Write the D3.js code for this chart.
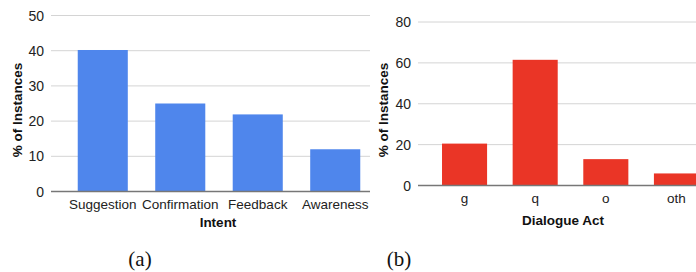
<!DOCTYPE html>
<html>
<head>
<meta charset="utf-8">
<script src="https://cdn.jsdelivr.net/npm/d3@7"></script>
<style>
  body { margin: 0; background: #fff; }
  svg { display: block; }
</style>
</head>
<body>
<script>
var intent_labels = ['Suggestion', 'Confirmation', 'Feedback', 'Awareness'];
var intent_values = [40.2, 25.0, 21.9, 12.0];
var intent_ticks = [0, 10, 20, 30, 40, 50];

var act_labels = ['g', 'q', 'o', 'oth'];
var act_values = [20.5, 61.5, 12.9, 5.9];
var act_ticks = [0, 20, 40, 60, 80];

var width = 696, height = 272;
var sans = '"Liberation Sans", Arial, sans-serif';

var svg = d3.select('body')
    .append('svg')
    .attr('width', width)
    .attr('height', height);

function draw_panel(cfg) {
    var g = svg.append('g');

    var x = d3.scaleBand()
        .domain(cfg.labels)
        .range(cfg.band_range)
        .paddingInner(cfg.pad_inner)
        .paddingOuter(cfg.pad_outer);

    var y = d3.scaleLinear()
        .domain([0, cfg.max])
        .range(cfg.y_range);

    // gridlines
    g.selectAll('.grid')
        .data(cfg.ticks.filter(function(d) { return d > 0; }))
        .enter()
        .append('line')
        .attr('x1', cfg.grid_x[0])
        .attr('x2', cfg.grid_x[1])
        .attr('y1', function(d) { return y(d); })
        .attr('y2', function(d) { return y(d); })
        .attr('stroke', '#d4d4d4')
        .attr('stroke-width', 1);

    // y tick labels
    g.selectAll('.ytick')
        .data(cfg.ticks)
        .enter()
        .append('text')
        .attr('x', cfg.grid_x[0] - 7)
        .attr('y', function(d) { return y(d) + 5; })
        .attr('text-anchor', 'end')
        .style('font-family', sans)
        .style('font-size', '14px')
        .attr('fill', '#222')
        .text(function(d) { return d; });

    // bars
    g.selectAll('.bar')
        .data(cfg.values)
        .enter()
        .append('rect')
        .attr('x', function(d, i) { return x(cfg.labels[i]); })
        .attr('y', function(d) { return y(d); })
        .attr('width', x.bandwidth())
        .attr('height', function(d) { return y(0) - y(d); })
        .attr('fill', cfg.color);

    // baseline
    g.append('line')
        .attr('x1', cfg.grid_x[0])
        .attr('x2', cfg.grid_x[1])
        .attr('y1', y(0))
        .attr('y2', y(0))
        .attr('stroke', '#777')
        .attr('stroke-width', 1.5);

    // x tick labels
    g.selectAll('.xtick')
        .data(cfg.labels)
        .enter()
        .append('text')
        .attr('x', function(d) { return x(d) + x.bandwidth() / 2; })
        .attr('y', y(0) + 17.5)
        .attr('text-anchor', 'middle')
        .style('font-family', sans)
        .style('font-size', '13.5px')
        .attr('fill', '#222')
        .text(function(d) { return d; });

    // x axis title
    g.append('text')
        .attr('x', cfg.x_title_x)
        .attr('y', cfg.x_title_y)
        .attr('text-anchor', 'middle')
        .style('font-family', sans)
        .style('font-size', '13.5px')
        .style('font-weight', 700)
        .attr('fill', '#111')
        .text(cfg.x_title);

    // y axis title
    g.append('text')
        .attr('transform', 'translate(' + cfg.y_title_x + ',' + cfg.y_title_y + ') rotate(-90)')
        .attr('text-anchor', 'middle')
        .style('font-family', sans)
        .style('font-size', '13.5px')
        .style('font-weight', 700)
        .attr('fill', '#111')
        .text('% of Instances');

    // caption
    g.append('text')
        .attr('x', cfg.caption_x)
        .attr('y', 266)
        .attr('text-anchor', 'middle')
        .style('font-family', '"Liberation Serif", "DejaVu Serif", serif')
        .style('font-size', '21px')
        .attr('fill', '#111')
        .text(cfg.caption);
}

draw_panel({
    labels: intent_labels,
    values: intent_values,
    ticks: intent_ticks,
    max: 50,
    band_range: [51, 387],
    pad_inner: 0.354,
    pad_outer: 0.345,
    y_range: [191.5, 15.5],
    grid_x: [51, 370],
    color: '#4f86ec',
    x_title: 'Intent',
    x_title_x: 218,
    x_title_y: 227,
    y_title_x: 22,
    y_title_y: 110,
    caption: '(a)',
    caption_x: 140
});

draw_panel({
    labels: act_labels,
    values: act_values,
    ticks: act_ticks,
    max: 80,
    band_range: [418, 723],
    pad_inner: 0.362,
    pad_outer: 0.34,
    y_range: [185.5, 22],
    grid_x: [418, 696],
    color: '#ea3526',
    x_title: 'Dialogue Act',
    x_title_x: 563,
    x_title_y: 225,
    y_title_x: 388,
    y_title_y: 110,
    caption: '(b)',
    caption_x: 399
});
</script>
</body>
</html>
